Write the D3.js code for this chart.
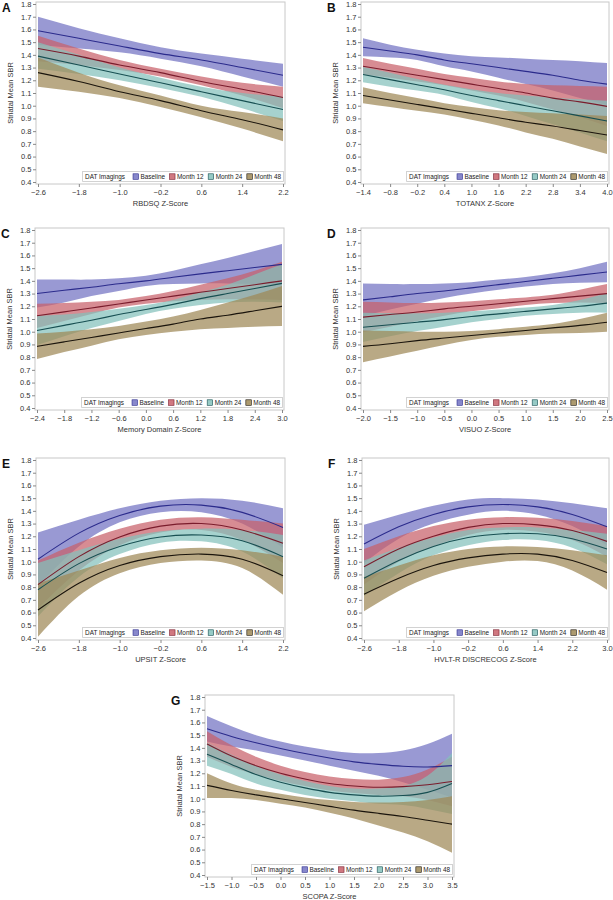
<!DOCTYPE html>
<html><head><meta charset="utf-8">
<script src="https://cdn.jsdelivr.net/npm/d3@7"></script>
<style>
body{margin:0;background:#fff;}
text{font-family:"Liberation Sans",Arial,sans-serif;}
</style></head>
<body><svg id="c" width="613" height="900"></svg>
<script>
const seriesNames = ["Baseline","Month 12","Month 24","Month 48"];
const bandColors = ["#7272c2","#c8606a","#84c1bb","#9e8856"];
const lineColors = ["#2b2b8c","#7a1c2c","#174f52","#1a140c"];
const yTicks = [0.4,0.5,0.6,0.7,0.8,0.9,1.0,1.1,1.2,1.3,1.4,1.5,1.6,1.7,1.8];

// Panel A
const A_x = [-2.6,-1.8,-1.0,-0.2,0.6,1.4,2.2];
const A_base = {fit:[1.59,1.53,1.47,1.41,1.36,1.30,1.24], lo:[1.48,1.45,1.42,1.37,1.31,1.23,1.15], hi:[1.70,1.61,1.53,1.46,1.41,1.37,1.33]};
const A_m12  = {fit:[1.45,1.39,1.32,1.26,1.19,1.13,1.065], lo:[1.35,1.32,1.28,1.23,1.16,1.08,0.98], hi:[1.55,1.45,1.36,1.29,1.23,1.18,1.15]};
const A_m24  = {fit:[1.39,1.32,1.25,1.18,1.11,1.04,0.97], lo:[1.29,1.25,1.20,1.14,1.07,0.98,0.88], hi:[1.50,1.40,1.30,1.22,1.15,1.10,1.07]};
const A_m48  = {fit:[1.26,1.19,1.11,1.04,0.96,0.89,0.81], lo:[1.15,1.11,1.06,0.99,0.91,0.82,0.72], hi:[1.38,1.26,1.16,1.08,1.00,0.95,0.90]};

// Panel B
const B_x = [-1.4,-0.8,-0.2,0.4,1.0,1.6,2.2,2.8,3.4,4.0];
const B_base = {fit:[1.46,1.43,1.40,1.36,1.33,1.30,1.27,1.24,1.20,1.17], lo:[1.39,1.38,1.36,1.31,1.27,1.22,1.17,1.12,1.06,1.005], hi:[1.53,1.48,1.44,1.41,1.39,1.38,1.37,1.36,1.35,1.335]};
const B_m12  = {fit:[1.31,1.275,1.24,1.205,1.17,1.135,1.10,1.06,1.03,0.995], lo:[1.245,1.22,1.19,1.16,1.12,1.08,1.03,0.97,0.91,0.84], hi:[1.375,1.33,1.29,1.25,1.22,1.19,1.17,1.16,1.155,1.15]};
const B_m24  = {fit:[1.245,1.205,1.165,1.125,1.08,1.04,1.00,0.96,0.92,0.88], lo:[1.185,1.15,1.12,1.085,1.03,0.98,0.92,0.855,0.79,0.72], hi:[1.305,1.26,1.21,1.165,1.13,1.10,1.08,1.065,1.05,1.04]};
const B_m48  = {fit:[1.08,1.045,1.01,0.975,0.94,0.905,0.87,0.84,0.805,0.77], lo:[1.02,0.99,0.96,0.93,0.89,0.845,0.79,0.74,0.68,0.62], hi:[1.145,1.10,1.06,1.02,0.99,0.965,0.95,0.94,0.93,0.92]};

// Panel C
const C_x = [-2.4,-1.8,-1.2,-0.6,0.0,0.6,1.2,1.8,2.4,3.0];
const C_base = {fit:[1.30,1.326,1.35,1.377,1.40,1.428,1.455,1.48,1.505,1.53], lo:[1.19,1.23,1.28,1.32,1.36,1.375,1.38,1.38,1.375,1.37], hi:[1.41,1.41,1.41,1.42,1.44,1.48,1.53,1.58,1.635,1.69]};
const C_m12  = {fit:[1.125,1.156,1.187,1.218,1.25,1.28,1.31,1.34,1.37,1.40], lo:[1.03,1.085,1.14,1.19,1.22,1.24,1.25,1.255,1.255,1.25], hi:[1.22,1.225,1.235,1.25,1.28,1.32,1.37,1.42,1.48,1.55]};
const C_m24  = {fit:[1.01,1.05,1.09,1.135,1.175,1.215,1.26,1.30,1.34,1.38], lo:[0.895,0.965,1.03,1.085,1.14,1.18,1.21,1.23,1.235,1.23], hi:[1.125,1.135,1.155,1.18,1.21,1.25,1.31,1.37,1.45,1.53]};
const C_m48  = {fit:[0.885,0.92,0.955,0.99,1.025,1.06,1.10,1.13,1.165,1.20], lo:[0.785,0.84,0.89,0.94,0.975,1.00,1.02,1.03,1.04,1.045], hi:[0.985,1.00,1.02,1.045,1.08,1.12,1.17,1.23,1.29,1.36]};

// Panel D
const D_x = [-2.0,-1.5,-1.0,-0.5,0.0,0.5,1.0,1.5,2.0,2.5];
const D_base = {fit:[1.25,1.275,1.30,1.32,1.345,1.37,1.395,1.42,1.445,1.47], lo:[1.12,1.175,1.22,1.265,1.30,1.33,1.355,1.375,1.385,1.39], hi:[1.38,1.375,1.375,1.38,1.39,1.41,1.43,1.46,1.50,1.55]};
const D_m12  = {fit:[1.115,1.135,1.155,1.18,1.20,1.22,1.24,1.26,1.28,1.30], lo:[0.995,1.04,1.085,1.125,1.16,1.185,1.21,1.225,1.23,1.225], hi:[1.235,1.23,1.225,1.23,1.24,1.255,1.27,1.29,1.33,1.375]};
const D_m24  = {fit:[1.035,1.055,1.075,1.095,1.12,1.14,1.16,1.18,1.20,1.225], lo:[0.92,0.965,1.005,1.04,1.075,1.10,1.125,1.14,1.15,1.15], hi:[1.15,1.145,1.145,1.15,1.16,1.175,1.19,1.21,1.25,1.30]};
const D_m48  = {fit:[0.885,0.905,0.93,0.95,0.97,0.99,1.01,1.03,1.05,1.075], lo:[0.76,0.805,0.85,0.895,0.935,0.96,0.975,0.985,0.99,1.0], hi:[1.01,1.005,1.0,1.0,1.005,1.02,1.04,1.06,1.10,1.15]};

// Panel E
const E_x = [-2.6,-1.8,-1.0,-0.2,0.6,1.4,2.2];
const E_base = {fit:[1.02,1.225,1.364,1.437,1.445,1.388,1.27], lo:[0.81,1.12,1.31,1.39,1.39,1.30,1.11], hi:[1.23,1.33,1.42,1.48,1.50,1.48,1.42]};
const E_m12  = {fit:[0.82,1.04,1.195,1.28,1.30,1.25,1.145], lo:[0.63,0.93,1.13,1.23,1.25,1.17,0.99], hi:[1.01,1.15,1.26,1.33,1.35,1.33,1.30]};
const E_m24  = {fit:[0.78,0.985,1.12,1.195,1.21,1.165,1.04], lo:[0.57,0.88,1.06,1.15,1.16,1.08,0.87], hi:[0.99,1.09,1.18,1.24,1.26,1.25,1.21]};
const E_m48  = {fit:[0.62,0.83,0.97,1.04,1.06,1.02,0.89], lo:[0.41,0.73,0.91,0.99,1.01,0.95,0.74], hi:[0.83,0.93,1.03,1.09,1.11,1.09,1.04]};

// Panel F
const F_x = [-2.6,-1.8,-1.0,-0.2,0.6,1.4,2.2,3.0];
const F_base = {fit:[1.14,1.275,1.372,1.431,1.45,1.431,1.372,1.275], lo:[0.99,1.18,1.30,1.37,1.40,1.37,1.28,1.13], hi:[1.29,1.37,1.44,1.49,1.50,1.49,1.46,1.42]};
const F_m12  = {fit:[0.96,1.10,1.20,1.27,1.30,1.29,1.245,1.16], lo:[0.82,1.00,1.12,1.21,1.25,1.235,1.17,1.04], hi:[1.10,1.20,1.28,1.33,1.35,1.345,1.32,1.28]};
const F_m24  = {fit:[0.87,1.01,1.12,1.19,1.22,1.22,1.18,1.10], lo:[0.73,0.91,1.05,1.13,1.17,1.17,1.11,0.98], hi:[1.01,1.11,1.19,1.25,1.27,1.27,1.25,1.22]};
const F_m48  = {fit:[0.745,0.87,0.97,1.03,1.06,1.06,1.01,0.915], lo:[0.61,0.77,0.89,0.96,1.00,1.005,0.93,0.78], hi:[0.88,0.97,1.05,1.10,1.12,1.115,1.09,1.05]};

// Panel G
const G_x = [-1.5,-1.0,-0.5,0.0,0.5,1.0,1.5,2.0,2.5,3.0,3.5];
const G_base = {fit:[1.55,1.49,1.44,1.395,1.355,1.32,1.29,1.27,1.255,1.25,1.26], lo:[1.45,1.41,1.38,1.34,1.30,1.26,1.22,1.18,1.13,1.07,1.01], hi:[1.65,1.57,1.50,1.45,1.41,1.38,1.36,1.36,1.38,1.43,1.51]};
const G_m12  = {fit:[1.43,1.335,1.26,1.20,1.155,1.12,1.10,1.09,1.095,1.11,1.135], lo:[1.33,1.25,1.19,1.14,1.10,1.065,1.045,1.03,1.02,0.99,0.94], hi:[1.53,1.42,1.33,1.26,1.21,1.175,1.155,1.15,1.17,1.23,1.33]};
const G_m24  = {fit:[1.35,1.27,1.19,1.13,1.085,1.05,1.03,1.02,1.025,1.05,1.12], lo:[1.26,1.195,1.12,1.07,1.03,1.00,0.98,0.96,0.95,0.92,0.88], hi:[1.44,1.345,1.26,1.19,1.14,1.10,1.08,1.08,1.10,1.18,1.36]};
const G_m48  = {fit:[1.105,1.065,1.03,1.00,0.97,0.94,0.91,0.885,0.86,0.83,0.80], lo:[1.005,1.005,0.99,0.96,0.93,0.89,0.845,0.79,0.735,0.665,0.575], hi:[1.20,1.12,1.07,1.04,1.01,0.99,0.975,0.97,0.975,0.99,1.02]};

const xLabels = {A:"RBDSQ Z-Score",B:"TOTANX Z-Score",C:"Memory Domain Z-Score",D:"VISUO Z-Score",E:"UPSIT Z-Score",F:"HVLT-R DISCRECOG Z-Score",G:"SCOPA Z-Score"};

const panels = [
  {id:"A", xs:A_x, s:[A_base,A_m12,A_m24,A_m48], box:[38,283,4,182]},
  {id:"B", xs:B_x, s:[B_base,B_m12,B_m24,B_m48], box:[363,607,4,182]},
  {id:"C", xs:C_x, s:[C_base,C_m12,C_m24,C_m48], box:[37,282,230,408]},
  {id:"D", xs:D_x, s:[D_base,D_m12,D_m24,D_m48], box:[363,607,230,408]},
  {id:"E", xs:E_x, s:[E_base,E_m12,E_m24,E_m48], box:[38,283,460,638]},
  {id:"F", xs:F_x, s:[F_base,F_m12,F_m24,F_m48], box:[364,607,460,638]},
  {id:"G", xs:G_x, s:[G_base,G_m12,G_m24,G_m48], box:[207,452,697,875]}
];

const svg = d3.select("#c");
const pad = 2;

panels.forEach(p => {
  const [x0,x1,yT,yB] = p.box;
  const x = d3.scaleLinear().domain([p.xs[0], p.xs[p.xs.length-1]]).range([x0,x1]);
  const y = d3.scaleLinear().domain([0.4,1.8]).range([yB,yT]);
  const g = svg.append("g");
  const clipId = "clip"+p.id;
  g.append("clipPath").attr("id",clipId).append("rect")
    .attr("x",x0-pad).attr("y",yT-pad).attr("width",x1-x0+2*pad).attr("height",yB-yT+2*pad);
  const plot = g.append("g").attr("clip-path",`url(#${clipId})`);

  const area = d3.area().curve(d3.curveNatural)
    .x((d,i)=>x(p.xs[i])).y0(d=>y(d[0])).y1(d=>y(d[1]));
  const line = d3.line().curve(d3.curveNatural)
    .x((d,i)=>x(p.xs[i])).y(d=>y(d));

  p.s.forEach((s,k)=>{
    const pts = s.lo.map((v,i)=>[v,s.hi[i]]);
    plot.append("path").attr("d",area(pts)).attr("fill",bandColors[k]).attr("fill-opacity",0.72);
  });
  p.s.forEach((s,k)=>{
    plot.append("path").attr("d",line(s.fit)).attr("fill","none").attr("stroke",lineColors[k]).attr("stroke-width",1.1);
  });

  g.append("rect").attr("x",x0-pad).attr("y",yT-pad).attr("width",x1-x0+2*pad).attr("height",yB-yT+2*pad)
    .attr("fill","none").attr("stroke","#c8c8c8").attr("stroke-width",1);

  const yAx = g.append("g").attr("transform",`translate(${x0-pad},0)`)
    .call(d3.axisLeft(y).tickValues(yTicks).tickFormat(d3.format(".1f")).tickSize(3).tickPadding(1.5));
  const xAx = g.append("g").attr("transform",`translate(0,${yB+pad})`)
    .call(d3.axisBottom(x).tickValues(p.xs).tickFormat(d3.format(".1f")).tickSize(3).tickPadding(3));
  [yAx,xAx].forEach(a=>{
    a.select(".domain").remove();
    a.selectAll(".tick line").attr("stroke","#888");
    a.selectAll(".tick text").attr("fill","#333").style("font-size","7.5px").style("font-family","'Liberation Sans',Arial,sans-serif");
  });

  g.append("text").attr("x",(x0+x1)/2).attr("y",yB+24).attr("text-anchor","middle")
    .style("font-size","7.5px").attr("fill","#333").text(xLabels[p.id]);
  g.append("text").attr("transform",`translate(${x0-25},${(yT+yB)/2}) rotate(-90)`).attr("text-anchor","middle")
    .style("font-size","7.5px").attr("fill","#333").text("Striatal Mean SBR");
  g.append("text").attr("x",x0-36).attr("y",yT+8).style("font-size","12px").style("font-weight","bold")
    .attr("fill","#111").text(p.id);

  // legend
  const lg = g.append("g");
  const lgRight = x1 + 0.5, lgBottom = yB - 0.5, lgH = 10;
  const items = [];
  let cx = 0;
  const fs = "6.4px";
  const t0 = lg.append("text").style("font-size",fs).attr("fill","#222").text("DAT Imagings");
  items.push({el:t0, x:cx}); cx += t0.node().getComputedTextLength() + 8;
  seriesNames.forEach((n,k)=>{
    const r = lg.append("rect").attr("width",5.5).attr("height",5.5).attr("fill",bandColors[k]).attr("fill-opacity",0.85)
      .attr("stroke",lineColors[k]).attr("stroke-width",0.6);
    items.push({el:r, x:cx, rect:true}); cx += 7.5;
    const t = lg.append("text").style("font-size",fs).attr("fill","#222").text(n);
    items.push({el:t, x:cx}); cx += t.node().getComputedTextLength() + (k<3?4.5:0);
  });
  const lgW = cx + 5;
  const lx = lgRight - lgW, ly = lgBottom - lgH;
  lg.insert("rect",":first-child").attr("x",lx).attr("y",ly).attr("width",lgW).attr("height",lgH)
    .attr("fill","#fff").attr("stroke","#c8c8c8").attr("stroke-width",0.8);
  items.forEach(it=>{
    if(it.rect) it.el.attr("x",lx+2.5+it.x).attr("y",ly+2.3);
    else it.el.attr("x",lx+2.5+it.x).attr("y",ly+7.3);
  });
});
</script></body></html>
